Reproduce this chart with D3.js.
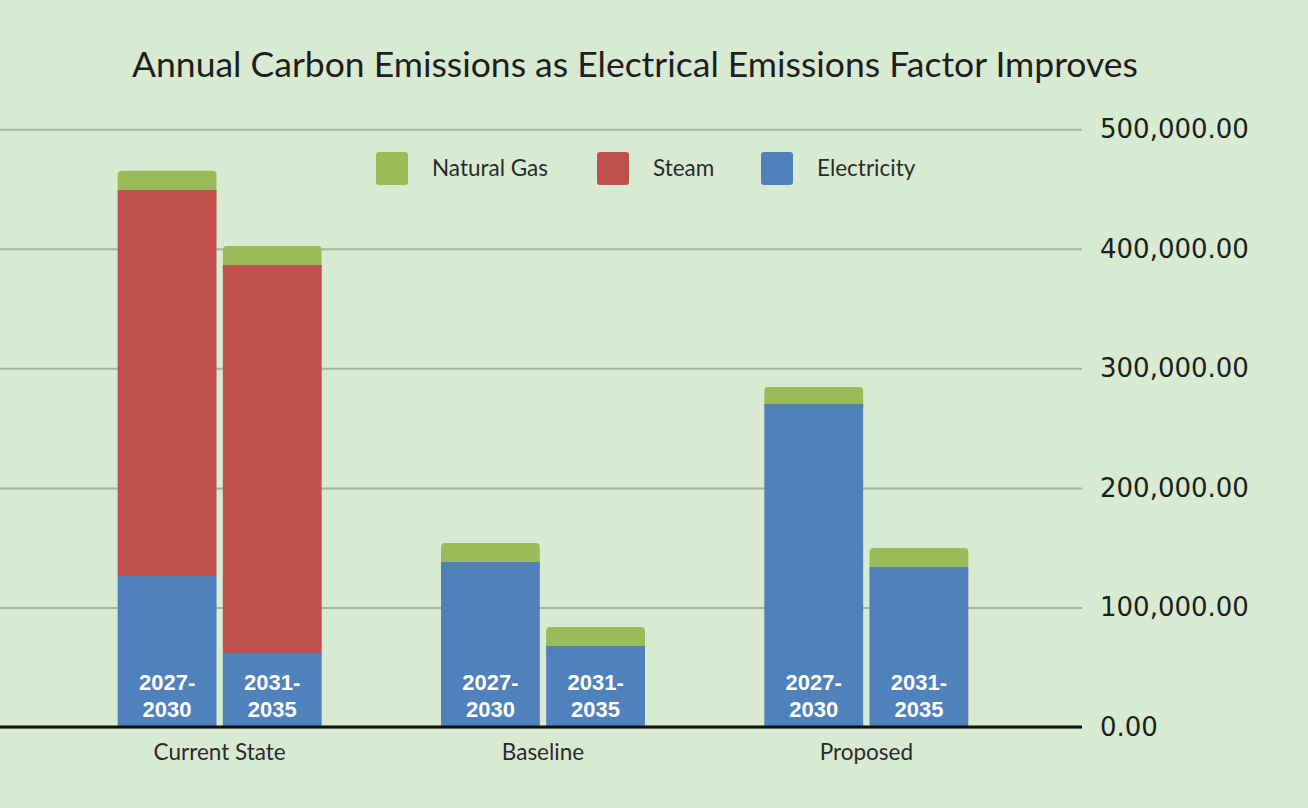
<!DOCTYPE html>
<html>
<head>
<meta charset="utf-8">
<script src="https://cdn.jsdelivr.net/npm/d3@7"></script>
<style>
	body { margin: 0; background: #d9ead3; }
	#chart { width: 1308px; height: 808px; }
</style>
</head>
<body>
<div id="chart"></div>
<script>
// Data (tonnes CO2e per year)
var categories = ["Current State", "Baseline", "Proposed"];
var periods = ["2027-2030", "2031-2035"];
var seriesNames = ["Electricity", "Steam", "Natural Gas"];
var electricity = [126300, 61900, 138000, 67700, 270200, 133800];
var steam = [322800, 324500, 0, 0, 0, 0];
var naturalGas = [16200, 15900, 15900, 15900, 14200, 15900];
var yTicks = [0, 100000, 200000, 300000, 400000, 500000];
var colors = { "Electricity": "#4f81bd", "Steam": "#c0504d", "Natural Gas": "#9bbb59" };

function createChart(){
	var width = 1308, height = 808;
	var svg = d3.select("#chart")
				.append("svg")
				.attr("width", width)
				.attr("height", height);

	// build rows for the stack
	var rows = [];
	categories.forEach(function(c, i){
		periods.forEach(function(p, j){
			var k = i * periods.length + j;
			rows.push({ category: c, period: p,
				"Electricity": electricity[k], "Steam": steam[k], "Natural Gas": naturalGas[k] });
		});
	});

	// scales
	var x0 = d3.scaleBand().domain(categories).range([58, 1028]);
	var half = 102;
	var x1 = d3.scaleBand().domain(periods)
				.range([x0.bandwidth() / 2 - half, x0.bandwidth() / 2 + half])
				.paddingInner(0.06);
	var y = d3.scaleLinear().domain([0, 500000]).range([727, 129.2]);

	// title
	svg.append("text")
		.attr("x", 635)
		.attr("y", 77)
		.attr("text-anchor", "middle")
		.attr("font-family", "Lato")
		.attr("font-size", "35.5px")
		.attr("fill", "#1e1e1e")
		.text("Annual Carbon Emissions as Electrical Emissions Factor Improves");

	// gridlines + right axis
	var yAxis = d3.axisRight(y)
				.tickValues(yTicks)
				.tickFormat(d3.format(",.2f"))
				.tickSize(-1082)
				.tickPadding(18);
	var axisG = svg.append("g")
				.attr("transform", "translate(1082,0)")
				.call(yAxis);
	axisG.select(".domain").remove();
	axisG.selectAll(".tick line")
		.attr("stroke", "#a4b49f")
		.attr("stroke-width", 2);
	axisG.selectAll(".tick text")
		.attr("font-family", "DejaVu Sans")
		.attr("font-size", "26px")
		.attr("fill", "#18221a");

	// stacked bars
	var stack = d3.stack().keys(seriesNames);
	var layers = stack(rows);
	var barsG = svg.append("g");
	layers.slice().reverse().forEach(function(layer){
		var isTop = layer.key === "Natural Gas";
		barsG.selectAll(null)
			.data(layer)
			.enter()
			.append("rect")
			.attr("x", function(d){ return x0(d.data.category) + x1(d.data.period); })
			.attr("width", x1.bandwidth())
			.attr("y", function(d){ return y(d[1]); })
			.attr("height", function(d){ return Math.max(0, y(d[0]) - y(d[1]) + (isTop ? 6 : 0)); })
			.attr("rx", isTop ? 4 : 0)
			.attr("fill", colors[layer.key]);
	});

	// baseline
	svg.append("line")
		.attr("x1", 0).attr("x2", 1082)
		.attr("y1", y(0)).attr("y2", y(0))
		.attr("stroke", "#111")
		.attr("stroke-width", 3);

	// period labels inside bars
	var lab = barsG.selectAll(".plabel")
		.data(rows)
		.enter()
		.append("text")
		.attr("class", "plabel")
		.attr("text-anchor", "middle")
		.attr("font-family", "Liberation Sans")
		.attr("font-weight", "bold")
		.attr("font-size", "22px")
		.attr("fill", "#fff")
		.attr("transform", function(d){
			return "translate(" + (x0(d.category) + x1(d.period) + x1.bandwidth() / 2) + ",690)";
		});
	lab.append("tspan").attr("x", 0).attr("y", 0)
		.text(function(d){ return d.period.split("-")[0] + "-"; });
	lab.append("tspan").attr("x", 0).attr("y", 27)
		.text(function(d){ return d.period.split("-")[1]; });

	// category labels
	svg.selectAll(".clabel")
		.data(categories)
		.enter()
		.append("text")
		.attr("class", "clabel")
		.attr("x", function(d){ return x0(d) + x0.bandwidth() / 2; })
		.attr("y", 760)
		.attr("text-anchor", "middle")
		.attr("font-family", "Lato")
		.attr("font-size", "22.5px")
		.attr("fill", "#2a2a2a")
		.text(function(d){ return d; });

	// legend
	var legendItems = ["Natural Gas", "Steam", "Electricity"];
	var legendX = [376, 597, 761];
	var legend = svg.selectAll(".legend")
		.data(legendItems)
		.enter()
		.append("g")
		.attr("class", "legend")
		.attr("transform", function(d, i){ return "translate(" + legendX[i] + ",152)"; });
	legend.append("rect")
		.attr("width", 32).attr("height", 33)
		.attr("rx", 3)
		.attr("fill", function(d){ return colors[d]; });
	legend.append("text")
		.attr("x", 56)
		.attr("y", 24)
		.attr("font-family", "Lato")
		.attr("font-size", "22.5px")
		.attr("fill", "#2a2a2a")
		.text(function(d){ return d; });
}
createChart();
</script>
</body>
</html>
